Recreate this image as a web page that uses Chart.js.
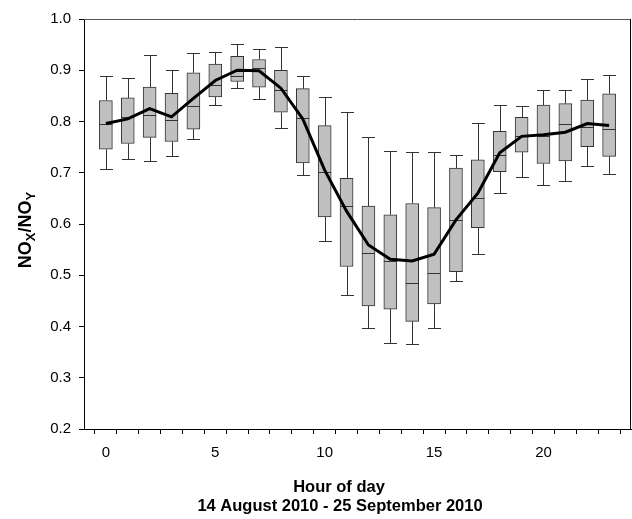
<!DOCTYPE html>
<html>
<head>
<meta charset="utf-8">
<script src="https://cdn.jsdelivr.net/npm/chart.js@4"></script>
<style>
  html, body { margin: 0; padding: 0; background: #fff; }
</style>
</head>
<body>
<canvas id="myChart" width="632" height="519"></canvas>
<script>
// hourly NOx/NOy statistics
const hours = [0, 1, 2, 3, 4, 5, 6, 7, 8, 9, 10, 11, 12, 13, 14, 15, 16, 17, 18, 19, 20, 21, 22, 23];
const whiskerLow = [0.708, 0.727, 0.723, 0.733, 0.765, 0.833, 0.866, 0.844, 0.787, 0.696, 0.566, 0.462,
                    0.398, 0.367, 0.365, 0.397, 0.488, 0.542, 0.660, 0.691, 0.677, 0.684, 0.714, 0.697];
const q1 = [0.746, 0.757, 0.769, 0.761, 0.785, 0.848, 0.878, 0.867, 0.818, 0.719, 0.614, 0.517,
            0.440, 0.434, 0.410, 0.444, 0.507, 0.593, 0.702, 0.740, 0.718, 0.723, 0.751, 0.732];
const median = [0.796, 0.808, 0.813, 0.802, 0.830, 0.872, 0.889, 0.905, 0.862, 0.806, 0.701, 0.636,
                0.544, 0.528, 0.485, 0.505, 0.607, 0.650, 0.735, 0.771, 0.771, 0.796, 0.790, 0.785];
const q3 = [0.841, 0.846, 0.867, 0.855, 0.895, 0.912, 0.927, 0.921, 0.900, 0.864, 0.792, 0.689,
            0.635, 0.618, 0.640, 0.632, 0.709, 0.725, 0.781, 0.808, 0.832, 0.835, 0.842, 0.854];
const whiskerHigh = [0.888, 0.885, 0.930, 0.901, 0.933, 0.936, 0.951, 0.941, 0.946, 0.888, 0.848, 0.819,
                     0.770, 0.742, 0.740, 0.740, 0.735, 0.797, 0.833, 0.831, 0.861, 0.862, 0.882, 0.890];
const mean = [0.796, 0.805, 0.825, 0.809, 0.845, 0.880, 0.900, 0.899, 0.865, 0.805, 0.705, 0.625,
              0.559, 0.531, 0.528, 0.541, 0.608, 0.660, 0.739, 0.771, 0.774, 0.779, 0.796, 0.792];
const xLabels = [0, 5, 10, 15, 20];

const BOX_W = 13;
const FONT = 'Arial, "Liberation Sans", sans-serif';

// whiskers, medians, frame and axis titles
const boxExtras = {
  id: 'boxExtras',
  beforeDatasetsDraw(chart) {
    const { ctx, scales: { x, y } } = chart;
    ctx.save();
    ctx.strokeStyle = '#333';
    ctx.lineWidth = 1;
    hours.forEach((h, i) => {
      const px = Math.round(x.getPixelForValue(h)) + 0.5;
      const yh = Math.round(y.getPixelForValue(whiskerHigh[i])) + 0.5;
      const yl = Math.round(y.getPixelForValue(whiskerLow[i])) + 0.5;
      ctx.beginPath();
      ctx.moveTo(px, y.getPixelForValue(q3[i]));
      ctx.lineTo(px, yh);
      ctx.moveTo(px - BOX_W / 2, yh);
      ctx.lineTo(px + BOX_W / 2, yh);
      ctx.moveTo(px, y.getPixelForValue(q1[i]));
      ctx.lineTo(px, yl);
      ctx.moveTo(px - BOX_W / 2, yl);
      ctx.lineTo(px + BOX_W / 2, yl);
      ctx.stroke();
    });
    ctx.restore();
  },
  afterDatasetDraw(chart, args) {
    if (args.index !== 0) return;
    const { ctx, scales: { x, y } } = chart;
    ctx.save();
    ctx.strokeStyle = '#333';
    ctx.lineWidth = 1;
    hours.forEach((h, i) => {
      const px = x.getPixelForValue(h);
      const ym = Math.round(y.getPixelForValue(median[i])) + 0.5;
      ctx.beginPath();
      ctx.moveTo(px - BOX_W / 2, ym);
      ctx.lineTo(px + BOX_W / 2, ym);
      ctx.stroke();
    });
    ctx.restore();
  },
  afterDraw(chart) {
    const { ctx, chartArea: a } = chart;
    ctx.save();
    ctx.lineWidth = 1;
    ctx.strokeStyle = '#555';
    ctx.beginPath();
    ctx.moveTo(a.left, a.top + 0.5);
    ctx.lineTo(a.right, a.top + 0.5);
    ctx.stroke();
    ctx.strokeStyle = '#000';
    ctx.beginPath();
    ctx.moveTo(a.right - 0.5, a.top);
    ctx.lineTo(a.right - 0.5, a.bottom);
    ctx.stroke();

    ctx.fillStyle = '#000';
    ctx.textAlign = 'center';
    ctx.textBaseline = 'middle';
    ctx.font = 'bold 16.5px ' + FONT;
    ctx.fillText('Hour of day', 339, 487);
    ctx.fillText('14 August 2010 - 25 September 2010', 340, 506);

    // y title with subscripts
    const parts = [['NO', false], ['X', true], ['/NO', false], ['Y', true]];
    const big = 'bold 18px ' + FONT, small = 'bold 13px ' + FONT;
    let total = 0;
    parts.forEach(([t, sub]) => { ctx.font = sub ? small : big; total += ctx.measureText(t).width; });
    ctx.translate(26, 230);
    ctx.rotate(-Math.PI / 2);
    ctx.textAlign = 'left';
    let cx = -total / 2;
    parts.forEach(([t, sub]) => {
      ctx.font = sub ? small : big;
      ctx.fillText(t, cx, sub ? 5 : 0);
      cx += ctx.measureText(t).width;
    });
    ctx.restore();
  }
};

new Chart(document.getElementById('myChart'), {
  data: {
    datasets: [
      {
        type: 'bar',
        data: hours.map((h, i) => ({ x: h, y: [q1[i], q3[i]] })),
        backgroundColor: '#c0c0c0',
        borderColor: '#333',
        borderWidth: 1,
        borderSkipped: false,
        barThickness: BOX_W,
        order: 2
      },
      {
        type: 'line',
        data: hours.map((h, i) => ({ x: h, y: mean[i] })),
        borderColor: '#000',
        borderWidth: 3,
        pointRadius: 0,
        tension: 0,
        fill: false,
        order: 1
      }
    ]
  },
  options: {
    responsive: false,
    animation: false,
    layout: { padding: { top: 19, right: 1, left: 0, bottom: 0 } },
    plugins: { legend: { display: false }, tooltip: { enabled: false } },
    scales: {
      x: {
        type: 'linear',
        min: -1,
        max: 24,
        offset: false,
        afterFit: (s) => { s.height = 90; s.paddingLeft = 0; s.paddingRight = 0; },
        grid: { display: true, drawOnChartArea: false, tickLength: 5, color: '#000' },
        border: { display: true, color: '#000' },
        ticks: {
          stepSize: 1,
          autoSkip: false,
          maxRotation: 0,
          padding: 10,
          color: '#000',
          font: { family: FONT, size: 15 },
          callback: (v) => (xLabels.includes(v) ? String(v) : '')
        }
      },
      y: {
        min: 0.2,
        max: 1.0,
        afterFit: (s) => { s.width = 84; },
        grid: { display: true, drawOnChartArea: false, tickLength: 5, color: '#000' },
        border: { display: true, color: '#000' },
        ticks: {
          stepSize: 0.1,
          padding: 8,
          color: '#000',
          font: { family: FONT, size: 15 },
          callback: (v) => Number(v).toFixed(1)
        }
      }
    }
  },
  plugins: [boxExtras]
});
</script>
</body>
</html>
